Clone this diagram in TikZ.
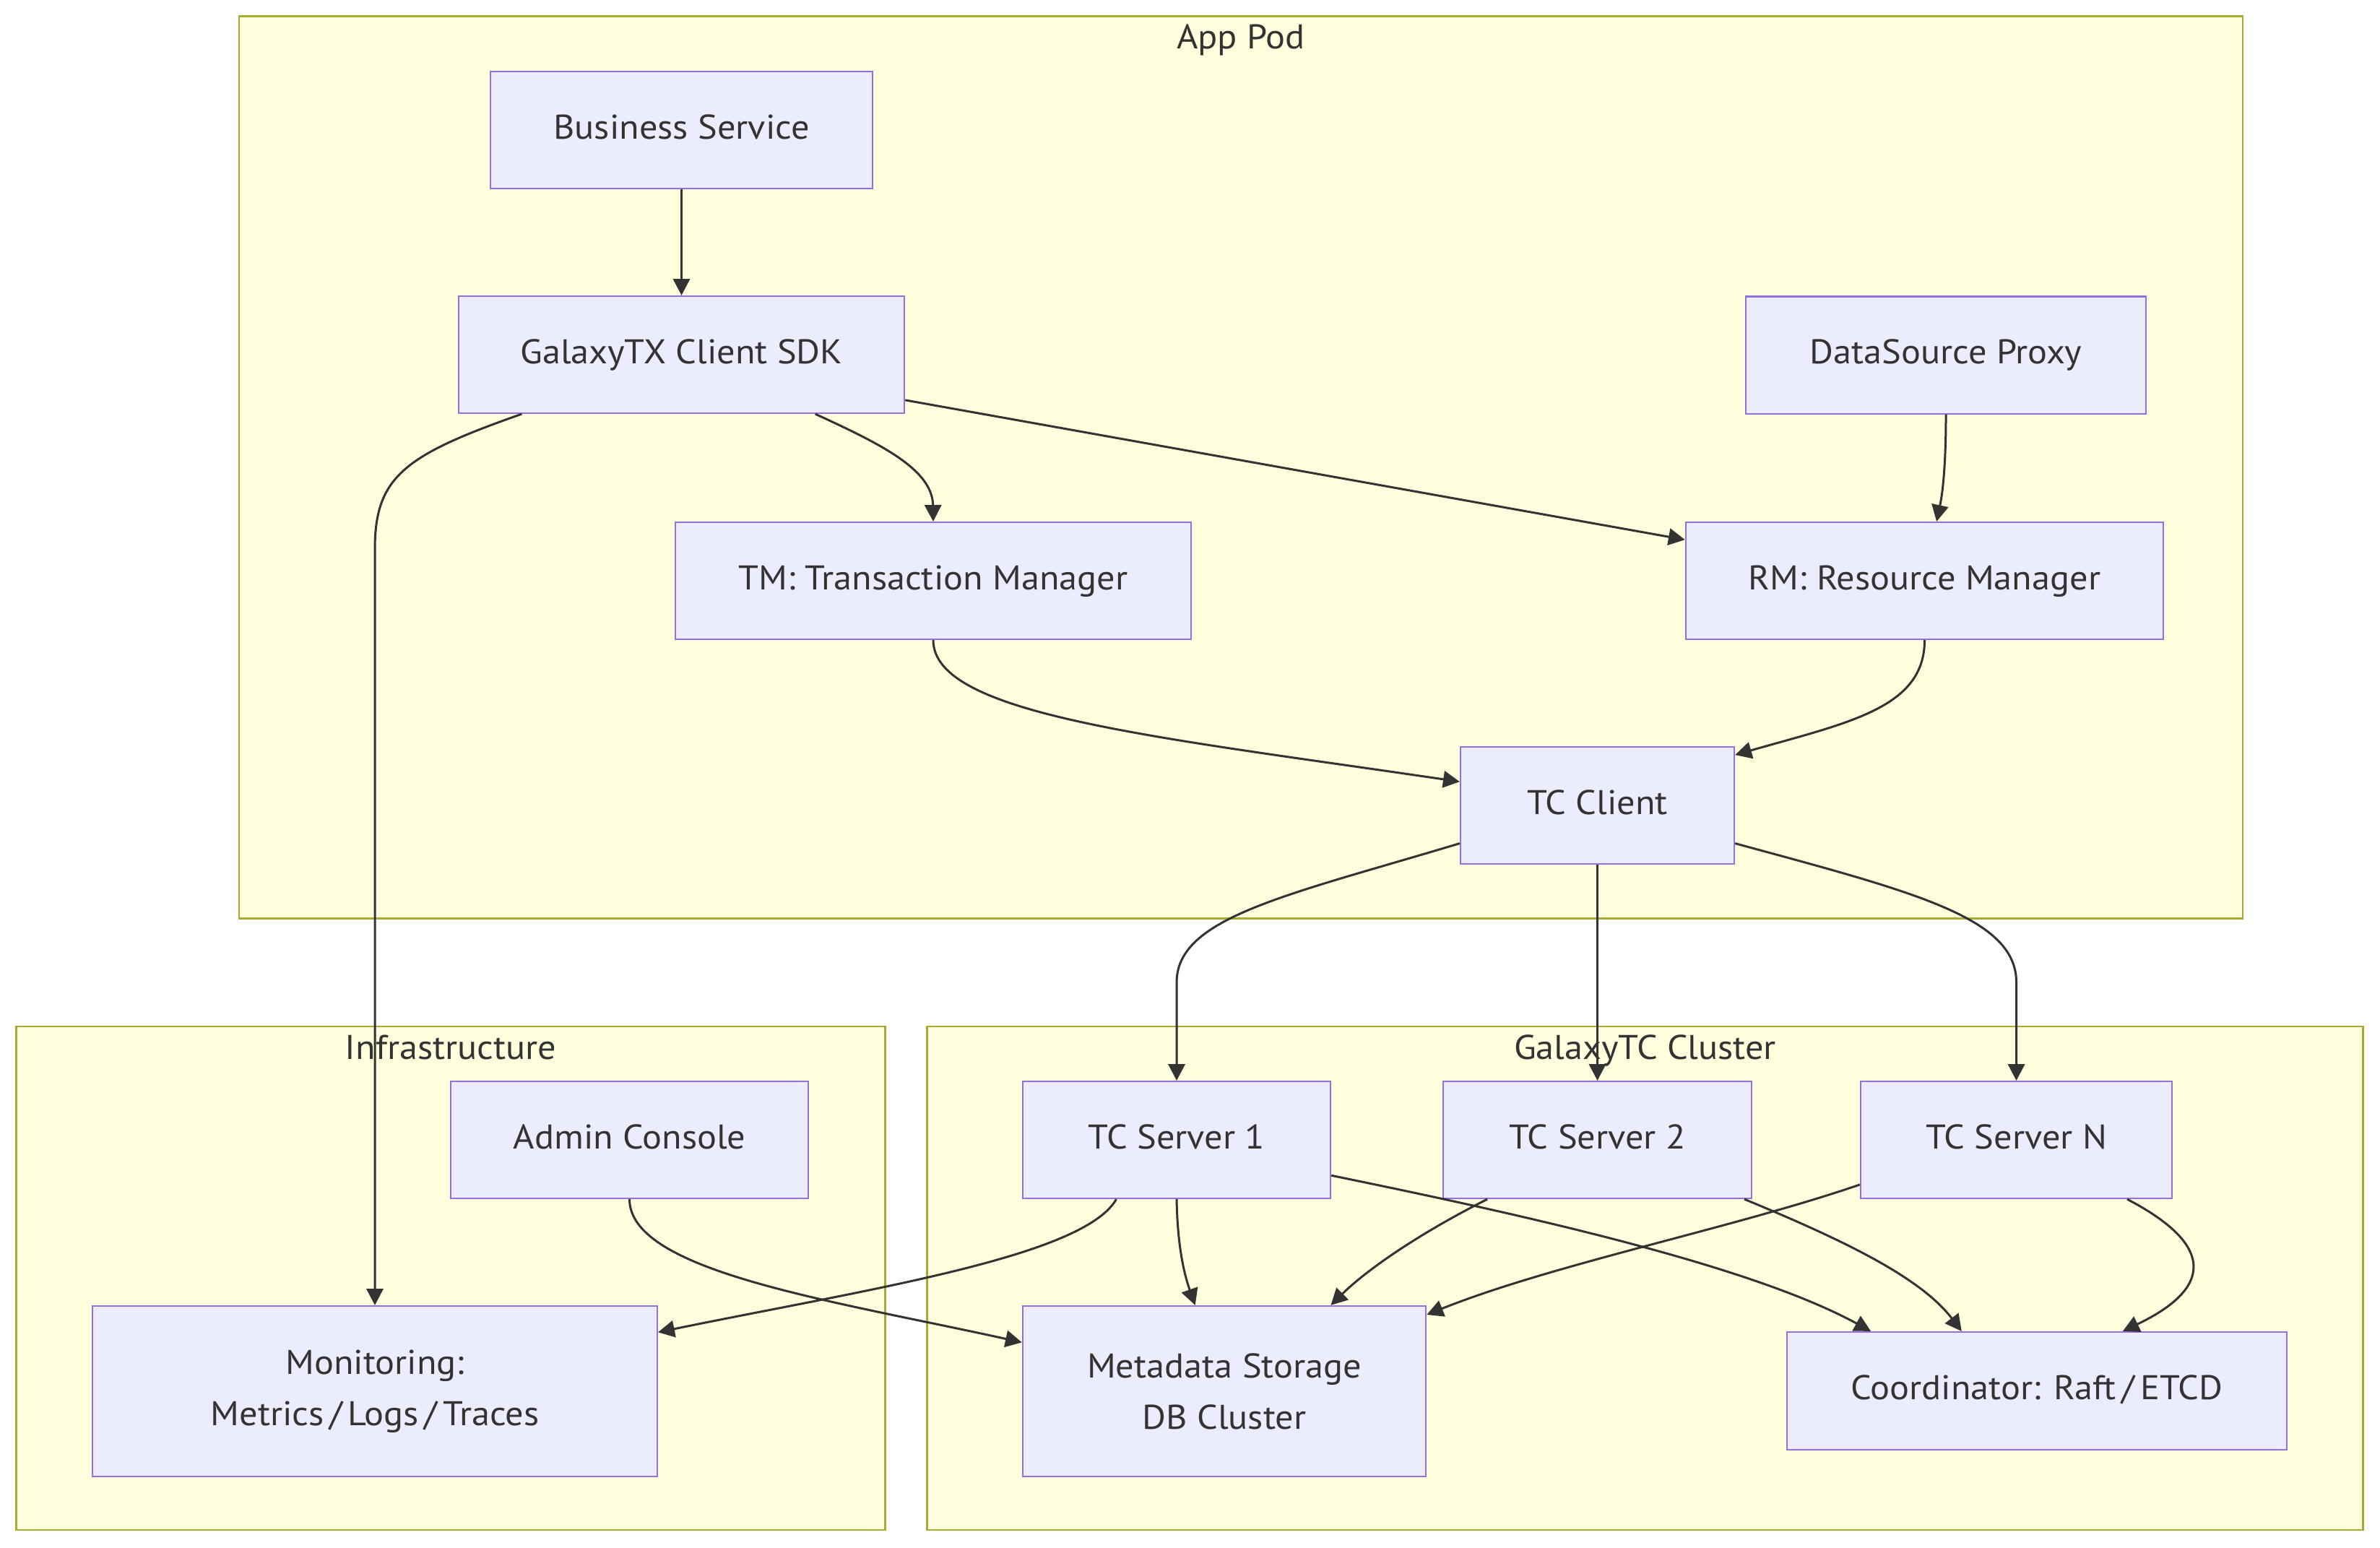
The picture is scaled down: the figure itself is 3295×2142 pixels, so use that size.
\documentclass[tikz,border=0pt]{standalone}
\usepackage{fontspec}
\setmainfont{PT Sans}[FakeStretch=1.06]
\usetikzlibrary{arrows.meta,calc}

\definecolor{nodefill}{HTML}{ECECFF}
\definecolor{nodeline}{HTML}{9370DB}
\definecolor{groupfill}{HTML}{FFFFDE}
\definecolor{groupline}{HTML}{AAAA33}
\definecolor{edgecol}{HTML}{333333}
\definecolor{txt}{HTML}{333333}

% a slash with a little air on both sides
\newcommand{\wideslash}{\kern2.2pt/\kern2.2pt}

\begin{document}
\begin{tikzpicture}[x=0.01cm,y=-0.01cm,
  every node/.style={font=\fontsize{13.5pt}{20.2pt}\selectfont, text=txt},
  box/.style={draw=nodeline, fill=nodefill, line width=0.6pt, inner sep=0pt,
              align=center, minimum height=1.62cm},
  oneline/.style={text height=0.70em, text depth=0pt},
  tallbox/.style={minimum height=2.36cm},
  group/.style={draw=groupline, fill=groupfill, line width=0.7pt, inner sep=0pt},
  grouptitle/.style={inner sep=0pt, text height=0.70em, text depth=0pt},
  edge/.style={draw=edgecol, line width=0.85pt, -{Triangle[length=6.5pt,width=6.6pt]}}
]
\useasboundingbox (0,0) rectangle (3295,2142);
\fill[white] (0,0) rectangle (3295,2142);

% subgraph frames
\node[group, minimum width=27.72cm, minimum height=12.48cm] (apppod) at (1718,647) {};
\node[group, minimum width=12.02cm, minimum height=6.97cm] (infra) at (624,1769.5) {};
\node[group, minimum width=19.87cm, minimum height=6.97cm] (cluster) at (2277.5,1769.5) {};
\node[grouptitle] (apppodtitle) at ($(apppod.north)+(0,34)$) {App Pod};
\node[grouptitle] (infratitle) at ($(infra.north)+(0,35)$) {Infrastructure};
\node[grouptitle] (clustertitle) at ($(cluster.north)+(0,35)$) {GalaxyTC Cluster};

% application side
\node[box,oneline,minimum width=5.29cm] (bs)   at (943.5,180)  {Business Service};
\node[box,oneline,minimum width=6.17cm] (sdk)  at (943.5,491)  {GalaxyTX Client SDK};
\node[box,oneline,minimum width=5.54cm] (dsp)  at (2694,491.5) {DataSource Proxy};
\node[box,oneline,minimum width=7.14cm] (tm)   at (1292,804)   {TM: Transaction Manager};
\node[box,oneline,minimum width=6.61cm] (rm)   at (2664.5,804) {RM: Resource Manager};
\node[box,oneline,minimum width=3.79cm] (tcc)  at (2211.5,1115) {TC Client};

% server side
\node[box,oneline,minimum width=4.26cm] (ts1)  at (1629,1578)   {TC Server 1};
\node[box,oneline,minimum width=4.27cm] (ts2)  at (2211.5,1578) {TC Server 2};
\node[box,oneline,minimum width=4.31cm] (tsn)  at (2791.5,1578) {TC Server N};
\node[box,oneline,minimum width=4.95cm] (adm)  at (871.5,1578)  {Admin Console};
\node[box,tallbox,minimum width=7.815cm] (mon) at (519,1926)    {Monitoring:\\Metrics\wideslash Logs\wideslash Traces};
\node[box,tallbox,minimum width=5.58cm] (meta) at (1695,1926)   {Metadata Storage\\DB Cluster};
\node[box,oneline,minimum width=6.92cm,minimum height=1.63cm] (coord) at (2820,1925.5) {Coordinator: Raft\wideslash ETCD};

% connectors
\draw[edge] (bs.south) -- (sdk.north);
\draw[edge] ($(sdk.south west)!0.143!(sdk.south east)$) .. controls (560,630) and (519,660) .. (519,760) -- (mon.north);
\draw[edge] ($(sdk.south west)!0.799!(sdk.south east)$) .. controls (1220,615) and (1291,650) .. (tm.north);
\draw[edge] ($(sdk.north east)!0.883!(sdk.south east)$) -- ($(rm.north west)!0.154!(rm.south west)$);
\draw[edge] (dsp.south) .. controls (2694,640) and (2690,680) .. ($(rm.north west)!0.525!(rm.north east)$);
\draw[edge] (tm.south) .. controls (1292,990) and (1600,1020) .. ($(tcc.north west)!0.30!(tcc.south west)$);
\draw[edge] (rm.south) .. controls (2664.5,980) and (2560,1000) .. ($(tcc.north east)!0.074!(tcc.south east)$);
\draw[edge] ($(tcc.north west)!0.82!(tcc.south west)$) .. controls (1780,1240) and (1629,1270) .. (1629,1360) -- (ts1.north);
\draw[edge] (tcc.south) -- (ts2.north);
\draw[edge] ($(tcc.north east)!0.82!(tcc.south east)$) .. controls (2650,1235) and (2791.5,1270) .. (2791.5,1360) -- (tsn.north);
\draw[edge] (adm.south) .. controls (871.5,1760) and (1150,1800) .. ($(meta.north west)!0.216!(meta.south west)$);
\draw[edge] ($(ts1.south west)!0.305!(ts1.south east)$) .. controls (1500,1740) and (1200,1785) .. ($(mon.north east)!0.157!(mon.south east)$);
\draw[edge] (ts1.south) .. controls (1630,1720) and (1638,1760) .. ($(meta.north west)!0.428!(meta.north east)$);
\draw[edge] ($(ts1.north east)!0.80!(ts1.south east)$) .. controls (2100,1680) and (2420,1750) .. ($(coord.north west)!0.169!(coord.north east)$);
\draw[edge] ($(ts2.south west)!0.145!(ts2.south east)$) .. controls (1960,1710) and (1890,1760) .. ($(meta.north west)!0.763!(meta.north east)$);
\draw[edge] ($(ts2.south west)!0.974!(ts2.south east)$) .. controls (2560,1720) and (2660,1770) .. ($(coord.north west)!0.350!(coord.north east)$);
\draw[edge] ($(tsn.north west)!0.877!(tsn.south west)$) .. controls (2400,1700) and (2150,1750) .. ($(meta.north east)!0.055!(meta.south east)$);
\draw[edge] ($(tsn.south west)!0.854!(tsn.south east)$) .. controls (3060,1720) and (3070,1780) .. ($(coord.north west)!0.671!(coord.north east)$);
\end{tikzpicture}
\end{document}
